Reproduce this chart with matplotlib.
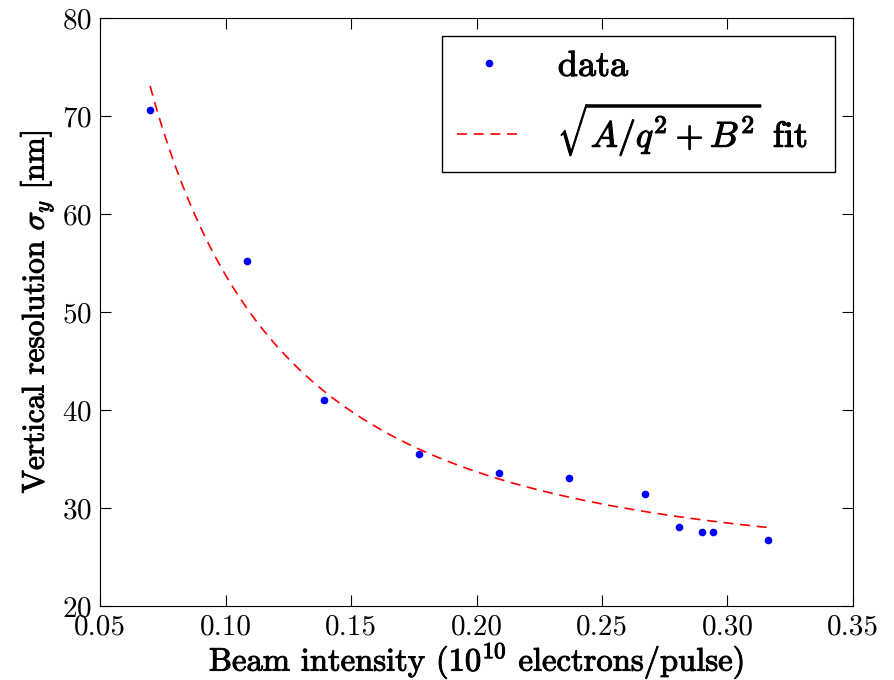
import numpy as np
import matplotlib
matplotlib.use("Agg")
import matplotlib.pyplot as plt
import matplotlib.patheffects as pe

# beam intensity (1e10 electrons/pulse) and measured vertical resolution (nm)
intensity = [0.0699, 0.1086, 0.1392, 0.1770, 0.2088, 0.2369, 0.2670, 0.2807, 0.2900, 0.2941, 0.3163]
sigma_y = [70.6, 55.2, 41.0, 35.5, 33.6, 33.1, 31.4, 28.1, 27.55, 27.55, 26.7]

# fit parameters of sigma = sqrt(A/q^2 + B^2)
fit_A = 23.4
fit_B = 23.45

plt.rcParams['font.family'] = 'serif'
plt.rcParams['font.serif'] = ['cmr10']
plt.rcParams['mathtext.fontset'] = 'cm'
plt.rcParams['axes.formatter.use_mathtext'] = True
plt.rcParams['axes.unicode_minus'] = False

fig = plt.figure(figsize=(8.94, 6.8), dpi=100)
ax = fig.add_axes([0.112, 0.109, 0.842, 0.8645])

ax.plot(intensity, sigma_y, '.', color='blue', markersize=9, label='data')

q = np.linspace(min(intensity), max(intensity), 200)
ax.plot(q, np.sqrt(fit_A / q**2 + fit_B**2), '--', color='red', linewidth=1.2,
        dashes=(6, 4), label=r'$\sqrt{A/q^2+B^2}$ fit')

ax.set_xlim(0.05, 0.35)
ax.set_ylim(20, 80)
ax.set_xticks(np.arange(0.05, 0.351, 0.05))
ax.set_xticklabels(['%.2f' % t for t in np.arange(0.05, 0.351, 0.05)])
ax.tick_params(direction='in', top=True, right=True, length=8, labelsize=21, pad=6)

# slightly heavier text to mimic the bold TeX labels
heavy = [pe.withStroke(linewidth=0.7, foreground='black')]
xl = ax.set_xlabel(r'Beam intensity ($10^{10}$ electrons/pulse)', fontsize=23.5, labelpad=0)
yl = ax.set_ylabel(r'Vertical resolution $\sigma_y$ [nm]', fontsize=22.5, labelpad=5)
xl.set_path_effects(heavy)
yl.set_path_effects(heavy)

leg = ax.legend(loc='upper right', numpoints=1, fontsize=26, fancybox=False,
                edgecolor='black', framealpha=1, borderpad=0.4, handlelength=1.8,
                handletextpad=1.0, borderaxespad=0.5)
leg.get_frame().set_linewidth(1.0)
for t in leg.get_texts():
    t.set_path_effects([pe.withStroke(linewidth=0.8, foreground='black')])

fig.savefig('out.png', dpi=100)
